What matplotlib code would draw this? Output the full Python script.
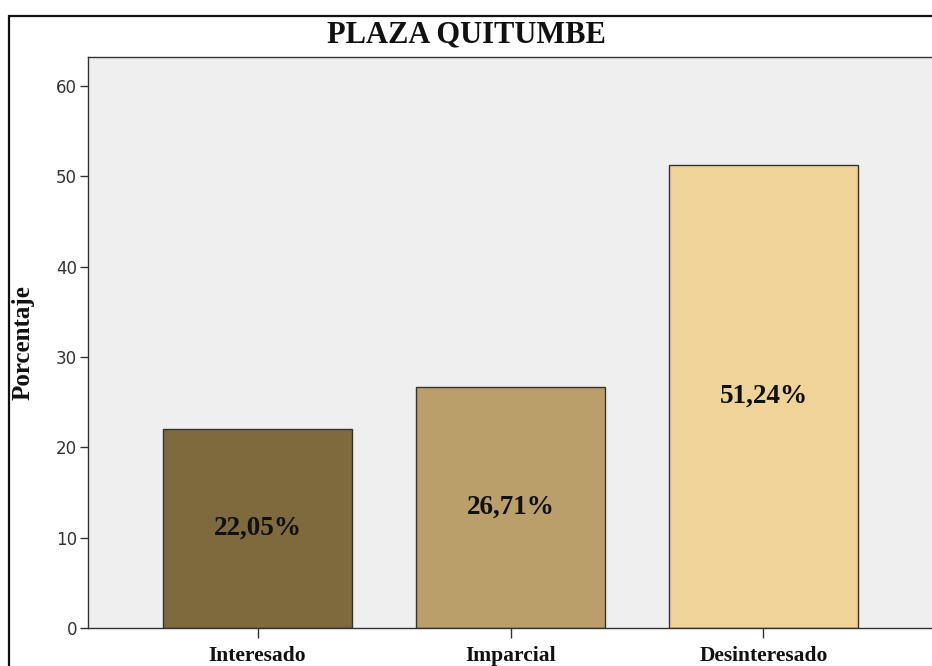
import matplotlib.pyplot as plt
from matplotlib.patches import Rectangle

categories = ["Interesado", "Imparcial", "Desinteresado"]
percentages = [22.05, 26.71, 51.24]
value_labels = ["22,05%", "26,71%", "51,24%"]
bar_colors = ["#7f6a3e", "#bb9f6a", "#efd399"]
y_ticks = [0, 10, 20, 30, 40, 50, 60]

W, H = 932, 666
fig = plt.figure(figsize=(W / 100, H / 100), dpi=100)

# outer frame (runs off the right and bottom edges like the source)
fig.patches.append(Rectangle((9 / W, -0.1), 1.2, 1.1 - 16 / H, transform=fig.transFigure,
                             fill=False, edgecolor="#111111", linewidth=1.6))

ax = fig.add_axes([88 / W, 1 - 628 / H, (933 - 88) / W, (628 - 57) / H])
ax.set_facecolor("#efefef")

x = list(range(len(categories)))
ax.bar(x, percentages, width=0.75, color=bar_colors, edgecolor="#333333", linewidth=1.0, zorder=2)

for xi, v, lab in zip(x, percentages, value_labels):
    ax.text(xi, v / 2, lab, ha="center", va="center", fontsize=19.5, fontweight="bold",
            family="Liberation Serif", color="#111111", zorder=3)

ax.set_xlim(-0.67, 2.67)
ax.set_ylim(0, 63.2)
ax.set_yticks(y_ticks)
ax.set_xticks(x)
ax.set_xticklabels(categories, family="Liberation Serif", fontweight="bold", fontsize=15.5, color="#111111")
ax.tick_params(axis="y", length=6, width=1, color="#333333", labelsize=12, labelcolor="#333333", pad=2)
ax.tick_params(axis="x", length=7, width=1, color="#333333", pad=6)

for s in ax.spines.values():
    s.set_color("#333333")
    s.set_linewidth(1.0)

ax.set_ylabel("Porcentaje", family="Liberation Serif", fontweight="bold", fontsize=18, color="#111111")
ax.yaxis.set_label_coords(-(88 - 35) / (933 - 88), 0.5)

fig.text(466 / W, 1 - 35 / H, "PLAZA QUITUMBE", ha="center", va="center", fontsize=22,
         fontweight="bold", family="Liberation Serif", color="#111111")

fig.savefig("out.png", dpi=100)
